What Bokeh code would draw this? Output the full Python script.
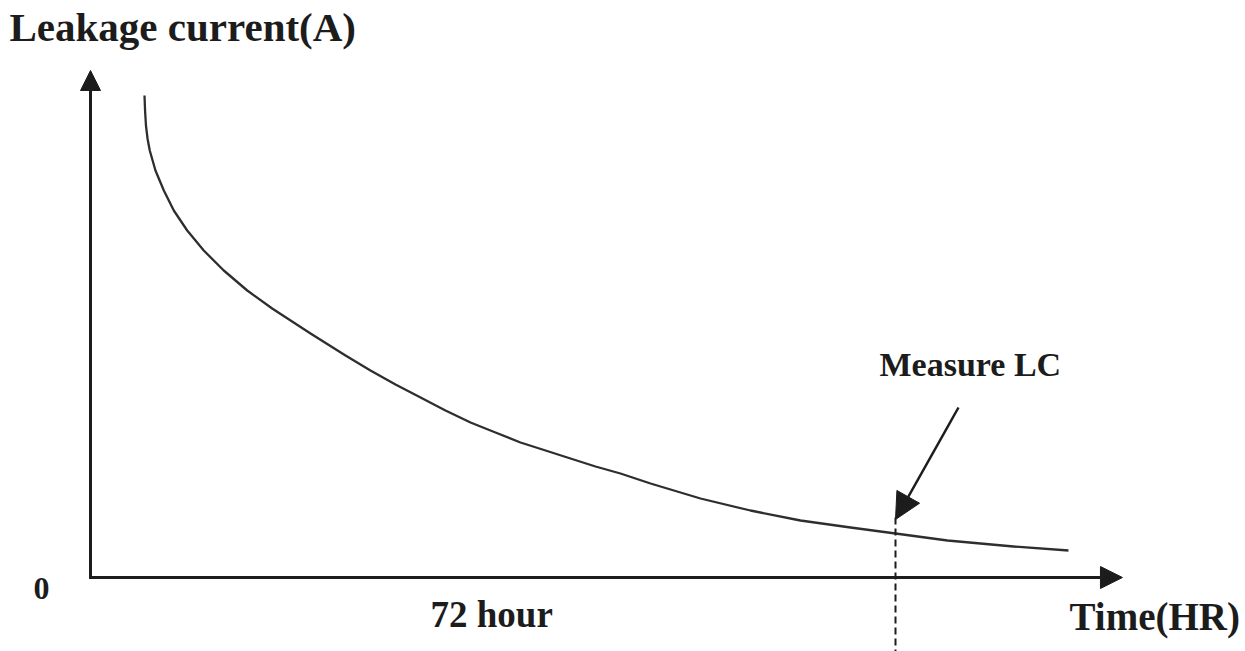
from bokeh.plotting import figure
from bokeh.models import Range1d, Arrow, NormalHead, ColumnDataSource
from bokeh.core.properties import value
from bokeh.embed import file_html
from bokeh.resources import INLINE

# ---- data (time in hours, leakage current in arbitrary units) ----
time_h = [4.83, 4.88, 4.96, 5.10, 5.30, 5.81, 6.56, 7.45, 8.65, 10.13, 11.92, 14.02,
          16.25, 19.68, 22.81, 25.04, 27.28, 29.52, 31.75, 33.99, 36.22, 38.46, 40.70,
          42.93, 45.17, 47.40, 50.09, 54.56, 59.03, 63.50, 67.98, 72.0, 76.65, 82.55, 87.47]
leak_current = [96.4, 93.4, 90.4, 87.8, 85.4, 81.4, 77.4, 73.4, 69.4, 65.4, 61.4, 57.4,
                53.8, 48.8, 44.4, 41.4, 38.6, 36.0, 33.4, 31.0, 29.0, 27.0, 25.4,
                23.8, 22.2, 20.8, 18.8, 15.8, 13.4, 11.4, 10.0, 8.8, 7.4, 6.2, 5.4]
measure_time = 72.0
y_axis_top = 101.4
x_axis_end = 92.3

y_label = "Leakage current(A)"
x_label = "Time(HR)"
measure_label = "Measure LC"
hour_label = "72 hour"
zero_label = "0"

# ---- layout ----
W, H = 1245, 651
PX_PER_H = 805 / 72.0
PX_PER_U = 5.0
OX, OY = 90, 577  # origin in page pixels

def hx(px):
    return (px - OX) / PX_PER_H

def uy(py):
    return (OY - py) / PX_PER_U

p = figure(width=W, height=H, output_backend="svg", toolbar_location=None,
           x_range=Range1d(hx(0), hx(W)), y_range=Range1d(uy(H), uy(0)),
           min_border=0)
p.axis.visible = False
p.grid.visible = False
p.outline_line_color = None
p.background_fill_color = "white"
p.border_fill_color = "white"

ink = "#1c1c1c"

# axes with arrowheads
p.add_layout(Arrow(x_start=0, y_start=-1.5 / PX_PER_U, x_end=0, y_end=y_axis_top,
                   line_width=3, line_color=ink,
                   end=NormalHead(size=20, fill_color=ink, line_color=ink, line_width=1)))
p.add_layout(Arrow(x_start=hx(OX - 1.5), y_start=0, x_end=x_axis_end, y_end=0,
                   line_width=3, line_color=ink,
                   end=NormalHead(size=22, fill_color=ink, line_color=ink, line_width=1)))

# leakage curve
src = ColumnDataSource(dict(t=time_h, c=leak_current))
p.line("t", "c", source=src, line_width=2.3, line_color="#2e2e2e", line_join="round")

# dashed measurement line
p.segment(x0=[measure_time], y0=[uy(517)], x1=[measure_time], y1=[uy(H + 5)],
          line_width=2, line_color=ink, line_dash="7 4")

# measure arrow
p.add_layout(Arrow(x_start=hx(958), y_start=uy(407), x_end=measure_time, y_end=uy(519),
                   line_width=2.5, line_color=ink,
                   end=NormalHead(size=26, fill_color=ink, line_color=ink, line_width=1)))

font = value("Liberation Serif")

def label(txt, px, py, size):
    p.text(x=[hx(px)], y=[uy(py)], text=[txt], text_font=font, text_font_style="bold",
           text_font_size=size, text_color=ink, text_align="left",
           text_baseline="alphabetic")

label(y_label, 9, 26, "41px")
label(x_label, 1069, 616, "39px")
label(measure_label, 879, 364, "34px")
label(hour_label, 430, 614, "37px")
label(zero_label, 33, 588, "32px")

open("out.html", "w").write(file_html(p, INLINE))
